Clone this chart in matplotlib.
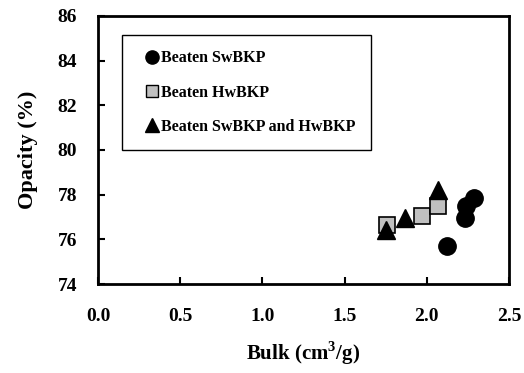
import matplotlib.pyplot as plt
from matplotlib.lines import Line2D

plt.rcParams['font.family'] = 'Liberation Serif'
plt.rcParams['font.weight'] = 'bold'
plt.rcParams['mathtext.fontset'] = 'custom'
plt.rcParams['mathtext.rm'] = 'Liberation Serif:bold'
plt.rcParams['mathtext.bf'] = 'Liberation Serif:bold'

# Beaten SwBKP
sw_bulk = [2.29, 2.24, 2.23, 2.12]
sw_opacity = [77.85, 77.5, 76.95, 75.7]

# Beaten HwBKP
hw_bulk = [1.76, 1.97, 2.07]
hw_opacity = [76.65, 77.05, 77.5]

# Beaten SwBKP and HwBKP
mix_bulk = [1.75, 1.87, 2.07]
mix_opacity = [76.4, 76.95, 78.2]

fig = plt.figure(figsize=(5.24, 3.73), dpi=100)
ax = fig.add_axes([98 / 524, 1 - 284 / 373, 411 / 524, 268 / 373])

ax.plot(sw_bulk, sw_opacity, 'o', color='black', markersize=12.5, zorder=3)
ax.plot(hw_bulk, hw_opacity, 's', markerfacecolor='#c0c0c0', markeredgecolor='black',
        markeredgewidth=1.2, markersize=12, zorder=3)
ax.plot(mix_bulk, mix_opacity, '^', color='black', markersize=12.5, zorder=4)

ax.set_xlim(0, 2.5)
ax.set_ylim(74, 86)
ax.set_xticks([0, 0.5, 1.0, 1.5, 2.0, 2.5])
ax.set_xticklabels(['0.0', '0.5', '1.0', '1.5', '2.0', '2.5'])
ax.set_yticks(range(74, 87, 2))
ax.tick_params(direction='in', length=5, width=1.5, labelsize=14)
ax.tick_params(axis='y', pad=15)
ax.tick_params(axis='x', pad=17)
for s in ax.spines.values():
    s.set_linewidth(2)

ax.set_xlabel('Bulk (cm$^{3}$/g)', fontsize=15, fontweight='bold', labelpad=11)
ax.set_ylabel('Opacity (%)', fontsize=16, fontweight='bold', labelpad=14)

handles = [
    Line2D([], [], marker='o', color='black', linestyle='none', markersize=9.5),
    Line2D([], [], marker='s', markerfacecolor='#c0c0c0', markeredgecolor='black',
           linestyle='none', markersize=9),
    Line2D([], [], marker='^', color='black', linestyle='none', markersize=9.5),
]
labels = ['Beaten SwBKP', 'Beaten HwBKP', 'Beaten SwBKP and HwBKP']
leg = ax.legend(handles, labels, loc='upper left', bbox_to_anchor=(0.058, 0.929),
                fancybox=False, edgecolor='black', framealpha=1,
                prop={'size': 11.5, 'weight': 'bold'}, handlelength=1.9,
                handletextpad=-0.4, labelspacing=1.15, borderpad=0.95,
                borderaxespad=0)
leg.get_frame().set_linewidth(1)

fig.savefig('out.png', dpi=100)
